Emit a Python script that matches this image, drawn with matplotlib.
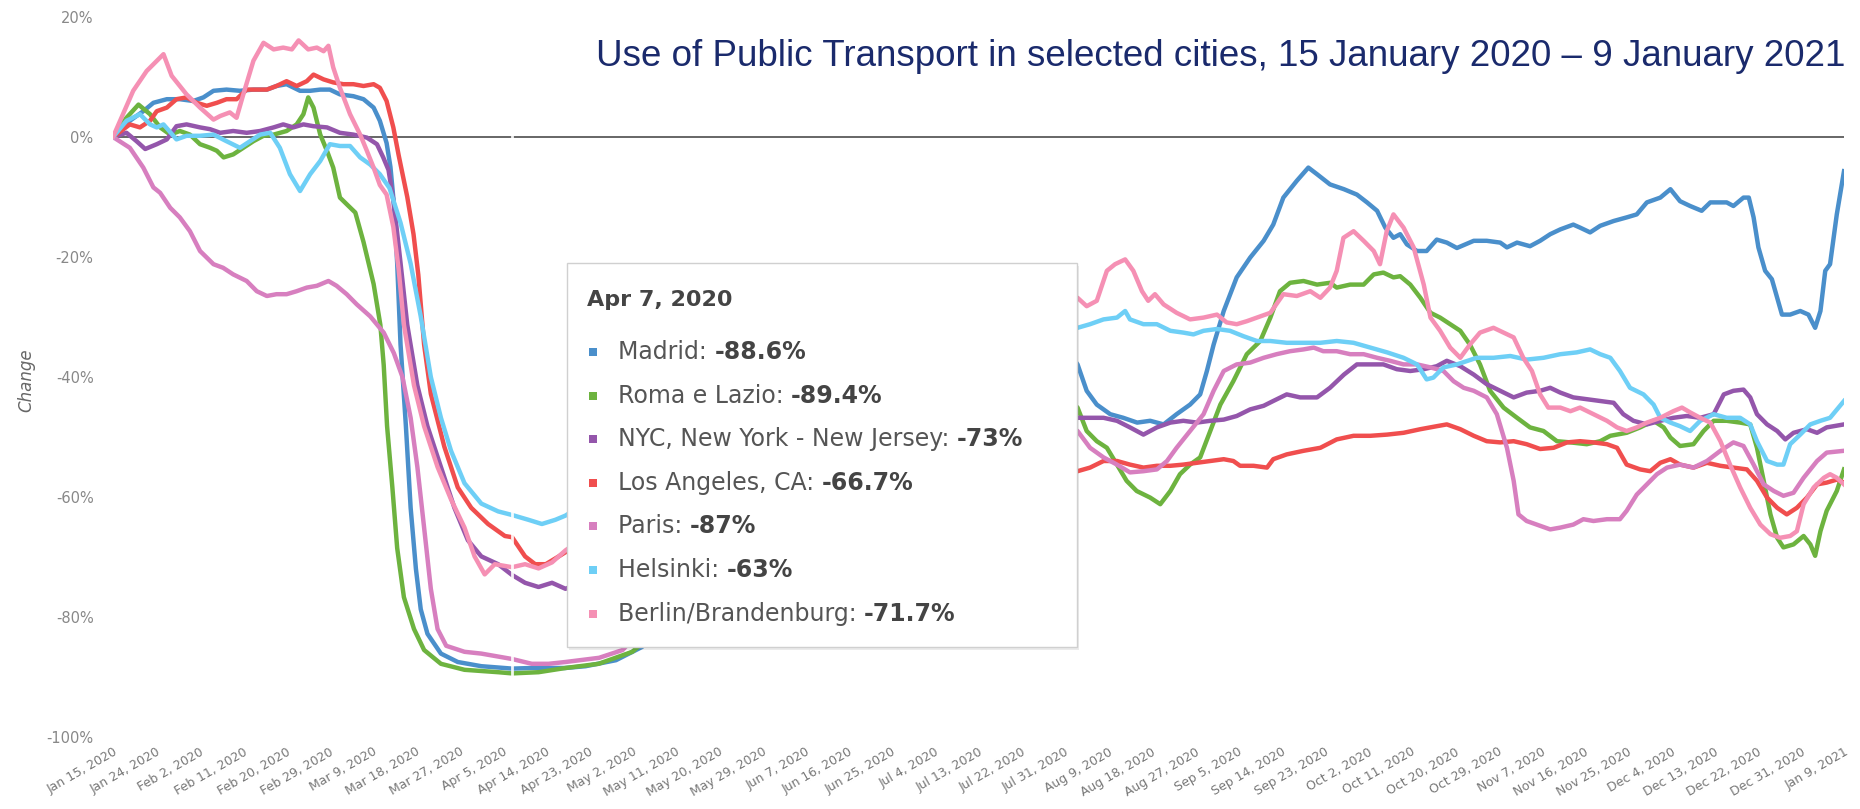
import numpy as np
import matplotlib
matplotlib.use("Agg")
from matplotlib import pyplot as plt
from matplotlib.patches import Rectangle

# day offsets from Jan 15, 2020 -> % change
madrid = [(0, 0), (3.5, 2.7), (6.3, 4.3), (8.4, 5.7), (11.2, 6.3), (13.9, 6.3), (16.7, 6.0), (18.8, 6.6),
          (20.9, 7.7), (23.6, 7.9), (26.4, 7.7), (29.2, 7.9), (32, 7.9), (34, 8.5), (36.1, 8.8), (38.9, 7.7),
          (41, 7.7), (43.1, 7.9), (45.1, 7.9), (47.2, 7.1), (50, 6.8), (52.1, 6.3), (54.2, 4.9), (55.5, 2.7),
          (56.9, -1.0), (57.7, -5.0), (58.4, -11), (59.1, -21), (59.8, -34.6), (60.9, -48), (61.9, -61.8),
          (63, -72), (64, -78.7), (65.4, -82.8), (68.2, -86.1), (71.7, -87.5), (76.6, -88.2), (83, -88.6),
          (87.1, -88.5), (94, -88.5), (98.3, -88.2), (104.6, -87.2), (110, -85), (120, -78), (135, -70),
          (150, -60), (165, -50), (180, -40), (190, -34), (196, -33), (200.6, -37.9), (202.5, -42.3),
          (204.6, -44.6), (207.4, -46.2), (210.1, -46.8), (213, -47.6), (215.7, -47.3), (218.5, -47.9),
          (221.2, -46.2), (224, -44.6), (226.1, -42.9), (227.5, -39), (228.9, -34.6), (231, -29), (233.7, -23.4),
          (236.5, -20.1), (239.3, -17.3), (241.3, -14.6), (243.4, -10.1), (246.2, -7.3), (248.6, -5.1),
          (250.4, -6.2), (253.1, -7.9), (256, -8.7), (258.7, -9.6), (260.8, -10.9), (262.9, -12.3),
          (264.6, -15.1), (266.3, -16.8), (267.7, -16.2), (269.1, -17.9), (271.2, -19), (273.2, -19),
          (275.3, -17.1), (277.4, -17.6), (279.5, -18.5), (283, -17.3), (285.7, -17.3), (288.5, -17.6),
          (289.9, -18.4), (292, -17.6), (294.7, -18.2), (296.8, -17.3), (298.9, -16.2), (301, -15.4),
          (303.7, -14.6), (305.1, -15.1), (307.2, -15.9), (309.3, -14.8), (312.1, -14), (314.8, -13.4),
          (316.9, -12.9), (319, -10.9), (321.8, -10.1), (323.9, -8.7), (325.9, -10.7), (328, -11.5),
          (330.4, -12.3), (332.2, -10.9), (335.6, -10.9), (337, -11.5), (339.1, -10.1), (340.2, -10.1),
          (341.2, -13.4), (342.2, -18.4), (343.6, -22.3), (345, -23.7), (346.1, -26.8), (347.1, -29.6),
          (348.8, -29.6), (350.9, -29), (352.6, -29.6), (354, -31.8), (355.1, -29), (356.1, -22.3),
          (357.1, -21.2), (358.5, -12.9), (360, -5.7)]

roma = [(0, 0), (2.8, 3.2), (5.3, 5.4), (7.7, 3.8), (9.8, 1.6), (11.9, 0.4), (13.9, 1), (16, 0.4), (18.1, -1.2),
        (20.2, -1.8), (21.6, -2.3), (23, -3.4), (25, -2.9), (27.1, -1.8), (29.2, -0.7), (31.3, 0.2), (33.4, 0.4),
        (36.1, 1), (38.2, 2.1), (39.6, 3.8), (40.6, 6.6), (41.7, 4.9), (43.1, 0.4), (44.5, -2.3), (45.8, -5.1),
        (47.2, -10.1), (48.6, -11.2), (50.4, -12.6), (52.1, -17.5), (54.2, -24.5), (55.6, -31.3), (56.3, -38),
        (57, -48.2), (58.1, -58.4), (59.1, -68.5), (60.5, -76.7), (62.6, -82), (64.7, -85.5), (68.2, -87.8),
        (73.1, -88.8), (80.1, -89.2), (83, -89.4), (88.5, -89.2), (94.1, -88.5), (101, -87.8), (108, -85.8),
        (112, -83), (125, -75), (140, -65), (155, -55), (170, -47), (185, -41), (195, -41), (200.6, -45.1),
        (202.5, -49), (204.6, -50.7), (206.7, -51.8), (208.8, -54.6), (210.8, -57.3), (212.9, -59),
        (215.7, -60.1), (217.8, -61.2), (219.9, -59), (221.9, -56.2), (224, -54.6), (226.1, -53.4),
        (228.2, -49), (230.3, -44.6), (233, -40.7), (235.8, -36.2), (238.6, -34), (240.7, -30.1),
        (242.7, -25.7), (244.8, -24.3), (247.6, -24), (250.4, -24.6), (253.1, -24.3), (254.5, -25.1),
        (257.3, -24.6), (260.1, -24.6), (262.2, -22.9), (264.2, -22.6), (266.3, -23.4), (267.7, -23.2),
        (269.8, -24.6), (271.9, -26.8), (274, -29.3), (276, -30.1), (278.1, -31.2), (280.2, -32.3),
        (282.2, -34.6), (284.3, -37.9), (286.4, -42.3), (289.2, -45.1), (292, -46.8), (294.7, -48.4),
        (297.5, -49), (300.3, -50.7), (303.1, -50.9), (306.5, -51.2), (309.3, -50.7), (311.4, -49.8),
        (314.8, -49.3), (317.6, -48.4), (320.4, -47.3), (322.5, -48.4), (323.9, -50.1), (325.9, -51.5),
        (328.7, -51.2), (330.8, -49), (332.9, -47.3), (335.6, -47.3), (338.4, -47.6), (340.5, -47.9),
        (341.9, -51.8), (343.3, -57.3), (344.7, -62.9), (346.1, -66.8), (347.4, -68.4), (349.5, -67.9),
        (351.6, -66.5), (353, -67.9), (354, -69.8), (355.1, -65.7), (356.4, -62.3), (358.5, -59), (360, -55.4)]

nyc = [(0, 0), (2.8, 0.7), (4.9, -0.7), (6.7, -2), (9.1, -1.2), (11.2, -0.4), (13.2, 1.8), (15.3, 2.1),
       (18.1, 1.6), (20.2, 1.3), (22.3, 0.7), (25, 1), (27.8, 0.7), (30.6, 1), (33.4, 1.6), (35.4, 2.1),
       (37.5, 1.6), (39.6, 2.1), (41.7, 1.8), (44.5, 1.6), (47.2, 0.7), (50, 0.4), (52.8, -0.1), (54.9, -1.2),
       (56.2, -3.4), (57.3, -5.5), (58.4, -11), (59.8, -21), (61.2, -31.3), (63.3, -41.4), (65.4, -48.2),
       (68.2, -55), (71, -61.8), (73.8, -67.2), (76.6, -69.9), (80.1, -71.2), (83, -73), (85.7, -74.3),
       (88.5, -75), (91.3, -74.3), (94.1, -75.3), (110, -70), (130, -62), (150, -55), (170, -50), (190, -47),
       (200.6, -46.8), (203.2, -46.8), (206, -46.8), (208.8, -47.3), (211.5, -48.4), (214.3, -49.6),
       (217.1, -48.4), (219.9, -47.6), (222.6, -47.3), (225.4, -47.6), (228.2, -47.3), (231, -47.1),
       (233.7, -46.5), (236.5, -45.4), (239.3, -44.8), (241.3, -44), (244.1, -42.9), (246.9, -43.4),
       (250.4, -43.4), (253.1, -41.8), (256, -39.6), (258.7, -37.9), (261.5, -37.9), (264.2, -37.9),
       (267, -38.7), (269.8, -39), (272.6, -38.7), (275.3, -38.2), (277.4, -37.3), (280.2, -38.2),
       (283, -39.6), (285.7, -41.2), (288.5, -42.3), (291.3, -43.4), (294, -42.6), (296.8, -42.3),
       (298.9, -41.8), (301, -42.6), (303.7, -43.4), (306.5, -43.7), (309.3, -44), (312.1, -44.3),
       (314.1, -46.2), (316.2, -47.3), (319, -47.9), (321.8, -47.3), (324.5, -46.8), (327.3, -46.5),
       (330.1, -46.8), (332.9, -46.2), (335, -42.9), (337, -42.3), (339.1, -42.1), (340.5, -43.4),
       (341.9, -46.2), (344, -47.9), (346.1, -49), (347.8, -50.4), (349.5, -49.3), (352.3, -48.7),
       (354.4, -49.3), (356.4, -48.4), (360, -47.9)]

los_angeles = [(0, 0), (3.5, 2.1), (5.6, 1.6), (7.7, 2.7), (9.1, 4.3), (11.2, 4.9), (13.2, 6.3), (15.3, 6.6),
               (17.4, 5.7), (19.5, 5.2), (21.6, 5.7), (23.6, 6.3), (25.7, 6.3), (27.8, 7.9), (29.9, 7.9),
               (32, 7.9), (34, 8.5), (36.1, 9.3), (38.2, 8.5), (40.3, 9.3), (41.7, 10.4), (43.8, 9.6),
               (45.8, 9.1), (47.9, 8.8), (50, 8.8), (52.1, 8.5), (54.2, 8.8), (55.5, 8.2), (56.9, 6), (58.3, 1.6),
               (59.4, -3), (61.2, -10), (62.5, -16.2), (63.5, -23), (64.7, -34.6), (66.1, -42.8), (68.9, -51.6),
               (71.7, -58.4), (74.5, -61.8), (78, -64.5), (81.5, -66.5), (83, -66.7), (85.7, -69.9),
               (87.8, -71.2), (90, -71.2), (92.7, -69.9), (94.1, -69.2), (110, -66), (130, -62), (150, -59),
               (170, -57), (190, -56), (200.6, -55.7), (203.2, -55.1), (206, -54), (208.8, -54), (211.5, -54.6),
               (214.3, -55.1), (217.1, -54.8), (219.9, -54.8), (222.6, -54.6), (225.4, -54.3), (228.2, -54),
               (231, -53.7), (233, -54), (234.4, -54.8), (237.2, -54.8), (240, -55.1), (241.3, -53.7),
               (244.1, -52.9), (247.6, -52.3), (251.1, -51.8), (254.5, -50.4), (258, -49.8), (261.5, -49.8),
               (265, -49.6), (268.4, -49.3), (271.9, -48.7), (275.3, -48.2), (277.4, -47.9), (280.2, -48.7),
               (283, -49.8), (285.7, -50.7), (288.5, -50.9), (291.3, -50.7), (294, -51.2), (296.8, -52),
               (299.6, -51.8), (302.4, -50.9), (305.1, -50.7), (307.9, -50.9), (310.7, -51.2), (312.8, -51.8),
               (314.8, -54.6), (317.6, -55.4), (319.7, -55.7), (321.8, -54.3), (323.9, -53.7), (325.9, -54.6),
               (328.7, -55.1), (331.5, -54.3), (334.3, -54.8), (337, -55.1), (339.8, -55.4), (341.9, -57.3),
               (344, -60.1), (346.1, -61.8), (348.1, -62.9), (350.2, -61.8), (352.3, -60.1), (354.4, -57.9),
               (356.4, -57.6), (358.5, -57.1), (360, -57.6)]

paris = [(0, 0), (3.5, -1.8), (6.3, -5.1), (8.4, -8.4), (9.8, -9.3), (11.9, -11.8), (13.9, -13.4), (16, -15.7),
         (18.1, -19), (20.9, -21.2), (22.9, -21.8), (25, -22.9), (27.8, -24), (29.9, -25.7), (32, -26.5),
         (34, -26.2), (36.1, -26.2), (38.2, -25.7), (40.3, -25.1), (42.4, -24.8), (44.8, -24), (46.5, -24.8),
         (48.6, -26.2), (50.7, -27.9), (53.5, -29.9), (56.3, -32.6), (58.4, -36), (60.2, -40), (61.9, -46.8),
         (63.3, -55), (64.7, -65.1), (66.1, -75.3), (67.5, -82), (69.3, -84.8), (73.1, -85.8), (76.6, -86.1),
         (83, -87), (87.1, -87.8), (90.6, -87.8), (94.1, -87.5), (101.1, -86.8), (106, -85.5), (110, -82),
         (120, -74), (140, -65), (160, -58), (180, -52), (195, -47), (200.6, -49), (203.2, -51.8), (206, -53.4),
         (208.8, -54.6), (211.5, -55.9), (214.3, -55.7), (217.1, -55.4), (219.2, -54), (221.2, -51.8),
         (224, -49), (226.8, -46.2), (228.9, -42.3), (231, -39), (233.7, -37.9), (236.5, -37.6), (239.3, -36.8),
         (242, -36.2), (244.8, -35.7), (247.6, -35.4), (249.7, -35.1), (251.7, -35.7), (254.5, -35.7),
         (257.3, -36.2), (260.1, -36.2), (262.9, -36.8), (265.6, -37.3), (268.4, -37.9), (271.2, -37.9),
         (274, -38.4), (276.7, -39), (278.8, -40.7), (280.9, -41.8), (283, -42.3), (285.7, -43.4),
         (287.8, -46.2), (289.9, -51.8), (291.3, -57.3), (292.3, -62.9), (294, -64), (296.8, -64.8),
         (298.9, -65.4), (301, -65.1), (303.7, -64.6), (305.8, -63.7), (307.9, -64), (310.7, -63.7),
         (313.4, -63.7), (314.8, -62.3), (316.9, -59.6), (319, -57.9), (321.1, -56.2), (323.2, -55.1),
         (325.9, -54.6), (328.7, -55.1), (331.5, -54), (334.3, -52.3), (337, -50.9), (339.1, -51.5),
         (341.2, -54.6), (343.3, -57.9), (345.4, -59), (347.4, -59.8), (349.5, -59.3), (351.6, -56.8),
         (354.4, -54), (356.4, -52.6), (360, -52.3)]

helsinki = [(0, 0), (2.8, 2.7), (5.6, 3.8), (7.7, 2.1), (9.1, 1.6), (10.5, 2.1), (13.2, -0.4), (15.3, 0.2),
            (18.1, 0.2), (20.9, 0.4), (23.6, -0.7), (26.4, -1.8), (28.5, -0.7), (30.6, 0.4), (32.7, 0.7),
            (34.7, -1.8), (36.8, -6.2), (38.9, -9), (41, -6.2), (43.1, -4), (45.1, -1.2), (47.2, -1.5),
            (49.3, -1.5), (51.4, -3.4), (53.5, -4.6), (55.5, -6.2), (57.5, -8.5), (59.8, -14.3), (61.9, -21.1),
            (64, -29.9), (66.1, -40), (68.2, -46.8), (70.3, -52.3), (73.1, -57.7), (76.6, -61.1), (80.1, -62.4),
            (83, -63), (86.4, -63.8), (89.2, -64.5), (92, -63.8), (94.1, -63.1), (110, -55), (130, -45),
            (150, -38), (170, -34), (190, -32), (200.6, -31.8), (203.2, -31.2), (206, -30.4), (208.8, -30.1),
            (210.5, -29), (211.5, -30.4), (214.3, -31.2), (217.1, -31.2), (219.9, -32.3), (222.6, -32.6),
            (224.7, -32.9), (226.8, -32.3), (229.6, -32), (232.3, -32.3), (235.1, -33.2), (237.9, -34),
            (240.7, -34), (244.1, -34.3), (247.6, -34.3), (251.1, -34.3), (254.5, -34), (258, -34.3),
            (261.5, -35.1), (265, -35.9), (268.4, -36.8), (271.2, -37.9), (273.2, -40.4), (274.6, -40.1),
            (276.7, -38.4), (279.5, -37.9), (283.6, -36.8), (287.1, -36.8), (290.6, -36.5), (294, -37.1),
            (297.5, -36.8), (301, -36.2), (304.4, -35.9), (307.2, -35.4), (309.3, -36.2), (311.4, -36.8),
            (313.4, -39), (315.5, -41.8), (318.3, -42.9), (320.4, -44.6), (321.8, -46.8), (323.9, -47.6),
            (325.9, -48.2), (328, -49), (330.1, -47.3), (332.9, -46.2), (335.6, -46.8), (338.4, -46.8),
            (340.5, -47.9), (341.9, -50.7), (344, -54), (346.1, -54.6), (347.4, -54.6), (348.8, -51.2),
            (350.9, -49.6), (353, -47.9), (355.1, -47.3), (357.1, -46.8), (360, -44)]

berlin = [(0, 0), (4.2, 7.7), (7, 11), (10.5, 13.8), (12.2, 10.2), (15.3, 7.1), (18.1, 4.9), (20.9, 2.9),
          (22.3, 3.5), (24.3, 4.1), (25.7, 3.2), (27.1, 7.1), (29.2, 12.7), (31.3, 15.7), (33.4, 14.6),
          (35.4, 14.9), (37.2, 14.6), (38.6, 16.1), (40.6, 14.6), (42.4, 14.9), (43.8, 14.3), (44.8, 15.2),
          (45.8, 11.6), (47.2, 8.2), (49.3, 3.8), (51.4, 0.4), (52.8, -2.3), (54.2, -5.1), (55.5, -8),
          (56.9, -9.6), (58.3, -15), (59.4, -22), (60.5, -31.3), (62.6, -41.4), (64.7, -48.2), (67.5, -55),
          (70.3, -60.4), (73.1, -65.1), (75.2, -69.9), (77.3, -72.9), (79.4, -71.2), (83, -71.7), (85.7, -71.2),
          (88.5, -71.9), (91.3, -70.9), (94.1, -68.9), (110, -60), (130, -50), (150, -42), (170, -35),
          (190, -30), (200.6, -26.8), (202.5, -28.2), (204.6, -27.3), (206.7, -22.3), (208.4, -21.2),
          (210.5, -20.4), (212.2, -22.3), (214, -25.7), (215.3, -27.3), (216.7, -26.2), (218.5, -27.9),
          (221.2, -29.3), (224, -30.4), (226.8, -30.1), (229.6, -29.6), (231.6, -30.9), (233.7, -31.2),
          (235.8, -30.7), (237.9, -30.1), (240.7, -29.3), (243.4, -26.2), (246.2, -26.5), (249, -25.7),
          (251.1, -26.8), (253.1, -25.1), (254.5, -22.3), (255.9, -16.8), (258, -15.7), (260.1, -17.3),
          (262.2, -19), (263.5, -21.2), (264.9, -15.7), (266.3, -12.9), (268.4, -15.1), (270.5, -18.4),
          (272.6, -24.6), (274, -30.1), (276, -32.3), (278.1, -35.1), (280.2, -36.8), (282.2, -34.6),
          (284.3, -32.6), (287.1, -31.8), (289.2, -32.6), (291.3, -33.4), (293.3, -36.8), (295.1, -39),
          (296.8, -42.9), (298.5, -45.1), (301, -45.1), (303.1, -45.7), (305.1, -45.1), (307.9, -46.2),
          (310.7, -47.3), (312.8, -48.4), (314.8, -49), (316.9, -48.4), (319, -47.6), (321.8, -46.8),
          (324.5, -45.7), (326.3, -45.1), (328, -45.9), (330.1, -46.8), (332.2, -47.6), (334.3, -50.7),
          (336.3, -54.6), (338.4, -58.4), (340.5, -61.8), (342.6, -64.6), (344.7, -66.2), (346.7, -66.8),
          (348.8, -66.5), (350.2, -65.7), (351.6, -61.2), (353.7, -58.4), (355.8, -56.8), (357.1, -56.2),
          (358.5, -56.8), (360, -57.9)]

city_names = ["Madrid", "Roma e Lazio", "NYC, New York - New Jersey", "Los Angeles, CA",
              "Paris", "Helsinki", "Berlin/Brandenburg"]
city_data = [madrid, roma, nyc, los_angeles, paris, helsinki, berlin]
city_colors = ["#4a8fcb", "#6db33f", "#9456ab", "#f04e4e", "#d77fbf", "#6ecff6", "#f590b4"]

hover_day = 83
hover_label = "Apr 7, 2020"
hover_values = ["-88.6%", "-89.4%", "-73%", "-66.7%", "-87%", "-63%", "-71.7%"]

tick_days = list(range(0, 361, 9))
tick_labels = ["Jan 15, 2020", "Jan 24, 2020", "Feb 2, 2020", "Feb 11, 2020", "Feb 20, 2020",
               "Feb 29, 2020", "Mar 9, 2020", "Mar 18, 2020", "Mar 27, 2020", "Apr 5, 2020",
               "Apr 14, 2020", "Apr 23, 2020", "May 2, 2020", "May 11, 2020", "May 20, 2020",
               "May 29, 2020", "Jun 7, 2020", "Jun 16, 2020", "Jun 25, 2020", "Jul 4, 2020",
               "Jul 13, 2020", "Jul 22, 2020", "Jul 31, 2020", "Aug 9, 2020", "Aug 18, 2020",
               "Aug 27, 2020", "Sep 5, 2020", "Sep 14, 2020", "Sep 23, 2020", "Oct 2, 2020",
               "Oct 11, 2020", "Oct 20, 2020", "Oct 29, 2020", "Nov 7, 2020", "Nov 16, 2020",
               "Nov 25, 2020", "Dec 4, 2020", "Dec 13, 2020", "Dec 22, 2020", "Dec 31, 2020",
               "Jan 9, 2021"]
y_ticks = [20, 0, -20, -40, -60, -80, -100]

title = "Use of Public Transport in selected cities, 15 January 2020 \u2013 9 January 2021"

W, H = 1860, 809
fig = plt.figure(figsize=(W / 100, H / 100), dpi=100)
ax = fig.add_axes([113 / W, 1 - 737 / H, 1731 / W, 720 / H])

ax.axhline(0, color="#666666", lw=1.4, zorder=1)
for data, color in zip(city_data, city_colors):
    d = np.array(data)
    ax.plot(d[:, 0], d[:, 1], color=color, lw=3.2, solid_joinstyle="round", zorder=2)

# hover crosshair
ax.axvline(hover_day, color="white", lw=2, alpha=0.9, zorder=3)

ax.set_xlim(0, 360)
ax.set_ylim(-100, 20)
for s in ax.spines.values():
    s.set_visible(False)
ax.set_xticks(tick_days)
ax.set_xticklabels(tick_labels, rotation=30, ha="right", va="top", rotation_mode="anchor",
                   fontsize=9, color="#777777")
ax.set_yticks(y_ticks)
ax.set_yticklabels([f"{v}%" for v in y_ticks], fontsize=10.5, color="#888888")
ax.tick_params(axis="both", length=0)
ax.tick_params(axis="x", pad=6)
ax.tick_params(axis="y", pad=14)
fig.text(26 / W, 1 - 380 / H, "Change", rotation=90, ha="center", va="center",
         fontsize=12, style="italic", color="#666666")

fig.text(1845 / W, 1 - 56 / H, title, ha="right", va="center", fontsize=26.5,
         family="Liberation Sans", color="#1a2a6c")

# tooltip box
bx0, by0, bx1, by1 = 567, 263, 1077, 647
fig.patches.append(Rectangle((bx0 / W + 2 / W, 1 - (by1 + 3) / H), (bx1 - bx0) / W, (by1 - by0) / H,
                             transform=fig.transFigure, facecolor="#000000", alpha=0.08,
                             edgecolor="none", zorder=5))
fig.patches.append(Rectangle((bx0 / W, 1 - by1 / H), (bx1 - bx0) / W, (by1 - by0) / H,
                             transform=fig.transFigure, facecolor="white", edgecolor="#d0d0d0",
                             lw=1, zorder=6))
fig.text(587 / W, 1 - 300 / H, hover_label, ha="left", va="center", fontsize=16,
         fontweight="bold", color="#444444", zorder=7)

fig.canvas.draw()
renderer = fig.canvas.get_renderer()
row_y = 352
for name, val, color in zip(city_names, hover_values, city_colors):
    fig.patches.append(Rectangle((589 / W, 1 - (row_y + 4) / H), 8 / W, 8 / H,
                                 transform=fig.transFigure, facecolor=color,
                                 edgecolor="none", zorder=7))
    t = fig.text(618 / W, 1 - row_y / H, name + ": ", ha="left", va="center",
                 fontsize=17, color="#555555", zorder=7)
    bb = t.get_window_extent(renderer=renderer)
    fig.text(bb.x1 / W, 1 - row_y / H, val, ha="left", va="center", fontsize=17,
             fontweight="bold", color="#444444", zorder=7)
    row_y += 43.6

fig.savefig("out.png", dpi=100)
